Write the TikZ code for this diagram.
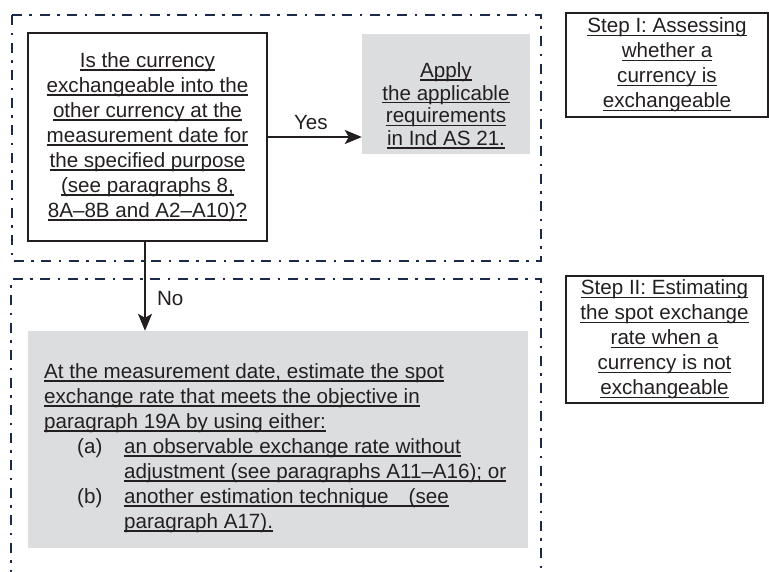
\documentclass[tikz,border=0pt]{standalone}
\usepackage{fontspec}
\setmainfont{Liberation Sans}
\usetikzlibrary{arrows.meta}
\definecolor{txtcol}{HTML}{231F20}
\definecolor{greyfill}{HTML}{DCDDDF}
\definecolor{framecol}{HTML}{1B2A4A}
\newsavebox\ulbox
\newcommand\uln[1]{\sbox\ulbox{#1}\rlap{\color{txtcol}\rule[-3.3pt]{\wd\ulbox}{1.3pt}}\usebox\ulbox}
\tikzset{
  txt/.style={font=\fontsize{20.6}{25}\selectfont, text=txtcol},
  txttight/.style={font=\fontsize{20.6}{22.6}\selectfont, text=txtcol},
  framebox/.style={draw=framecol, line width=2pt, dash pattern=on 10pt off 7.5pt on 2.5pt off 7.5pt},
  blackbox/.style={draw=txtcol, line width=2pt, inner sep=0pt, txt, align=center},
  greybox/.style={fill=greyfill, draw=none, inner sep=0pt},
  arr/.style={draw=txtcol, line width=2pt, -{Stealth[length=17pt,width=14pt,inset=4pt]}},
}
\begin{document}
\begin{tikzpicture}[x=1pt,y=-1pt]
\useasboundingbox (0,0) rectangle (769,571);
% frames
\draw[framebox] (12,15) rectangle (541,261);
\draw[framebox] (11,580) -- (11,279) -- (541,279) -- (541,580);
% question box
\node[blackbox, minimum width=239pt, minimum height=208pt] (q) at (147.5,137)
 {\uln{Is the currency}\\\uln{exchangeable into the}\\\uln{other currency at the}\\\uln{measurement date for}\\\uln{the specified purpose}\\\uln{(see paragraphs 8,}\\\uln{8A–8B and A2–A10)?}};
% apply box
\node[greybox, minimum width=168pt, minimum height=120pt] (apply) at (446,94) {};
\node[txttight, align=center, inner sep=0pt] (applytext) at (446,105.5)
 {\uln{Apply}\\\uln{the applicable}\\\uln{requirements}\\\uln{in Ind AS 21.}};
% step boxes
\node[blackbox, minimum width=202pt, minimum height=104pt] (step1) at (667,65)
 {\uln{Step I: Assessing}\\\uln{whether a}\\\uln{currency is}\\\uln{exchangeable}};
\node[blackbox, minimum width=197pt, minimum height=127pt] (step2) at (664.5,339.5)
 {\uln{Step II: Estimating}\\\uln{the spot exchange}\\\uln{rate when a}\\\uln{currency is not}\\\uln{exchangeable}};
% estimate box
\node[greybox, minimum width=500pt, minimum height=217pt] (est) at (278,439.5) {};
\node[txt, align=left, inner sep=0pt, anchor=north west] (esttext) at (44,363.2)
 {\uln{At the measurement date, estimate the spot}\\
  \uln{exchange rate that meets the objective in}\\
  \uln{paragraph 19A by using either:}\\
  \makebox[80pt][l]{\hspace{33pt}(a)}\uln{an observable exchange rate without}\\
  \hspace*{80pt}\uln{adjustment (see paragraphs A11–A16); or}\\
  \makebox[80pt][l]{\hspace{33pt}(b)}\uln{another estimation technique\hspace{20pt}(see}\\
  \hspace*{80pt}\uln{paragraph A17).}};
% connectors
\draw[arr] (q.east) -- node[txt, midway, above=6pt, xshift=-4pt, inner sep=0pt] (yes) {Yes} (q.east -| apply.west);
\draw[arr] ([xshift=-2.5pt]q.south) -- node[txt, pos=0.72, anchor=base west, xshift=11pt, inner sep=0pt] (no) {No} ([xshift=-2.5pt]q.south |- est.north);
\end{tikzpicture}
\end{document}
